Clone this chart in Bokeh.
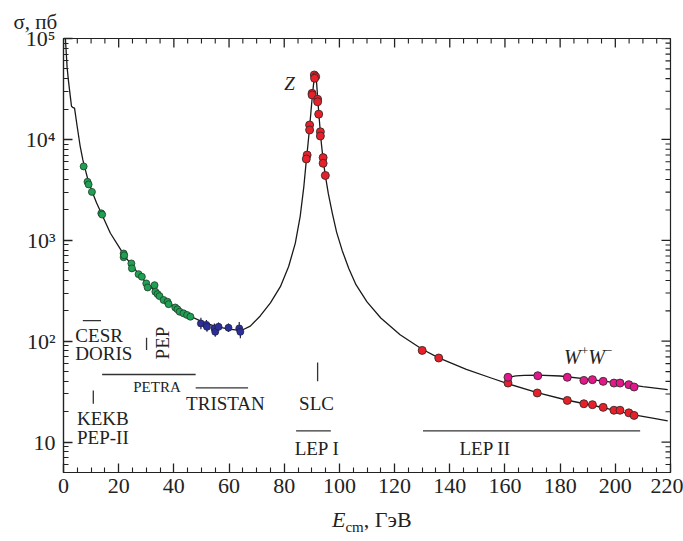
from bokeh.plotting import figure
from bokeh.models import FixedTicker, Div
from bokeh.layouts import column
from bokeh.embed import file_html
from bokeh.resources import INLINE
from bokeh.core.properties import value
import math

SERIF = "Liberation Serif"

# ---------------- data ----------------
# theoretical cross-section curve e+e- -> hadrons
curve_E = [0.7, 1.3, 1.8, 2.5, 2.9, 3.3, 4.0, 5.0, 6.0, 7.0, 7.5, 8.0, 9.0, 10.0, 11.0, 12.0,
           14.0, 17.0, 20.0, 22.0, 25.0, 28.0, 30.0, 33.0, 36.0, 40.0, 45.0, 50.0, 55.0,
           60.0, 63.0, 65.0, 67.7, 71.3, 75.0, 78.6, 81.6, 84.0, 85.8, 87.1, 88.0, 88.6,
           89.2, 89.7, 90.2, 90.6, 91.0, 91.3, 91.6, 92.0, 92.5, 93.0, 93.5, 94.1, 94.9,
           96.0, 97.5, 99.0, 101.0, 103.4, 106.0, 110.0, 115.0, 122.0, 130.0, 136.0,
           146.0, 155.0, 161.0, 171.7, 182.6, 191.7, 199.5, 206.8, 213.0, 219.0]
curve_sig = [99000, 52000, 38000, 26200, 21300, 20800, 20400, 13200, 8700, 6300, 5500,
             4900, 3850, 3240, 2750, 2340, 1780, 1175, 870, 710, 556, 437, 380, 316, 269,
             221, 182, 157, 140, 132, 129, 130, 141, 178, 240, 347, 550, 933, 1740, 3390,
             6170, 8900, 13200, 19000, 27000, 34700, 41200, 43150, 40700, 28800, 18600,
             12600, 8900, 6300, 4370, 2880, 1820, 1200, 794, 525, 363, 245, 170, 116, 83.2,
             68.4, 52.5, 43.2, 38.0, 30.9, 26.0, 23.2, 20.8, 18.6, 17.4, 16.2]

# W+W- production curve
ww_E = [161.0, 162.0, 164.0, 167.0, 172.0, 180.0, 190.0, 200.0, 210.0, 219.0]
ww_sig = [42.5, 44.3, 45.3, 45.9, 46.2, 45.2, 42.2, 38.9, 35.5, 33.1]

# low-energy measurements (PETRA, PEP, CESR, DORIS ...)
green_E = [7.3, 8.7, 9.1, 10.3, 13.7, 14.0, 21.8, 21.8, 22.0, 24.6, 24.8, 27.2, 28.4, 30.0,
           30.5, 33.0, 33.3, 34.1, 34.8, 36.3, 37.7, 38.1, 40.5, 41.3, 42.1, 43.5, 44.8, 46.0]
green_sig = [5400, 3800, 3580, 3020, 1850, 1800, 740, 680, 710, 590, 527, 462, 436, 374,
             341, 359, 309, 293, 280, 256, 246, 233, 216, 207, 196, 189, 182, 175]
green_err = [0.06, 0.05, 0.05, 0.05, 0.05, 0.05, 0.06, 0.06, 0.06, 0.07, 0.07, 0.07, 0.07,
             0.07, 0.08, 0.08, 0.07, 0.07, 0.07, 0.07, 0.07, 0.07, 0.07, 0.07, 0.07, 0.07,
             0.07, 0.07]

# TRISTAN measurements
blue_E = [49.8, 51.8, 52.0, 54.7, 55.0, 56.2, 59.8, 63.7, 64.1]
blue_sig = [150, 145, 139, 134, 124, 139, 136, 134, 124]
blue_err = [0.14, 0.12, 0.12, 0.12, 0.12, 0.10, 0.10, 0.16, 0.16]

# LEP / SLC measurements at the Z and above
red_E = [90.9, 91.4, 91.0, 90.1, 90.1, 92.1, 92.1, 92.5, 89.2, 89.2, 93.1, 93.1, 88.3, 88.0,
         94.1, 94.1, 94.9, 130.0, 136.0, 161.1, 171.7, 182.6, 188.6, 191.7, 195.6, 199.5,
         201.7, 204.9, 206.8]
red_sig = [43500, 41800, 40300, 28600, 27600, 25000, 23600, 17800, 13900, 12400, 11900,
           10800, 7000, 6400, 6600, 5800, 4390, 81.1, 68.2, 38.5, 30.7, 25.9, 24.0, 23.5,
           22.1, 20.7, 20.7, 19.5, 18.4]

# W+W- measurements
mag_E = [161.1, 171.9, 182.6, 188.6, 191.7, 195.6, 199.5, 201.7, 204.9, 206.8]
mag_sig = [43.9, 45.5, 43.9, 40.9, 41.6, 40.0, 38.5, 38.5, 37.1, 35.2]

x_ticks = [0, 20, 40, 60, 80, 100, 120, 140, 160, 180, 200, 220]
y_ticks = [10, 100, 1000, 10000, 100000]
y_tick_labels = ["10", "10\u00b2", "10\u00b3", "10\u2074", "10\u2075"]

# ---------------- figure ----------------
X0, X1, Y0, Y1 = 0, 220, 5, 1e5
p = figure(width=683, height=505, x_range=(X0, X1), y_range=(Y0, Y1), y_axis_type="log",
           output_backend="svg", toolbar_location=None,
           min_border_left=63, min_border_right=13, min_border_top=38, min_border_bottom=33)
p.xgrid.visible = False
p.ygrid.visible = False
p.outline_line_color = "#222222"
p.outline_line_width = 1.2

INK = "#222222"
p.title.text = "\u03c3, \u043f\u0431"
p.title.align = "left"
p.title.offset = -50
p.title.text_font = SERIF
p.title.text_font_size = "21px"
p.title.text_font_style = "normal"
p.title.text_color = INK
p.title.standoff = 10

x_minor = [v for v in range(5, 220, 5) if v % 20 != 0]
y_minor = [5, 6, 7, 8, 9]
for d in [10, 100, 1000, 10000]:
    for k in range(2, 10):
        y_minor.append(k * d)

MAJ, MIN = 9, 5   # tick lengths in px

def base_style(ax):
    ax.axis_line_color = INK
    ax.axis_line_width = 1.2
    ax.major_tick_in = MAJ
    ax.major_tick_out = 0
    ax.minor_tick_in = MIN
    ax.minor_tick_out = 0
    ax.major_tick_line_color = INK
    ax.minor_tick_line_color = INK
    ax.major_tick_line_width = 1.3
    ax.minor_tick_line_width = 1.1
    ax.major_label_text_font = SERIF
    ax.major_label_text_font_size = "22px"
    ax.major_label_text_color = INK

xax = p.xaxis[0]
xax.ticker = FixedTicker(ticks=x_ticks, minor_ticks=x_minor)
base_style(xax)
xax.major_label_standoff = 6

yax = p.yaxis[0]
yax.ticker = FixedTicker(ticks=y_ticks, minor_ticks=y_minor)
yax.major_label_overrides = {t: s for t, s in zip(y_ticks, y_tick_labels)}
base_style(yax)
yax.major_label_standoff = 8

# mirrored inward ticks on the top and right frame edges
frame_w, frame_h = 607.0, 434.0
dx_per_px = (X1 - X0) / frame_w
dlog_per_px = (math.log10(Y1) - math.log10(Y0)) / frame_h
for ticks, length, lw in [(x_ticks, MAJ, 1.3), (x_minor, MIN, 1.1)]:
    f = 10 ** (-length * dlog_per_px)
    p.segment(x0=ticks, x1=ticks, y0=[Y1] * len(ticks), y1=[Y1 * f] * len(ticks),
              line_color=INK, line_width=lw)
for ticks, length, lw in [(y_ticks, MAJ, 1.3), (y_minor, MIN, 1.1)]:
    p.segment(x0=[X1] * len(ticks), x1=[X1 - length * dx_per_px] * len(ticks),
              y0=ticks, y1=ticks, line_color=INK, line_width=lw)

# ---------------- curves ----------------
p.line(curve_E, curve_sig, line_color="#1a1a1a", line_width=1.3)
p.line(ww_E, ww_sig, line_color="#1a1a1a", line_width=1.3)

# ---------------- error bars ----------------
def errbars(E, s, e, color, width):
    p.segment(x0=E, y0=[v / (1 + r) for v, r in zip(s, e)], x1=E,
              y1=[v * (1 + r) for v, r in zip(s, e)], line_color=color, line_width=width)

errbars(green_E, green_sig, green_err, "#1c4a2c", 1.0)
errbars(blue_E, blue_sig, blue_err, "#222244", 1.2)

# ---------------- markers ----------------
p.scatter(green_E, green_sig, marker="circle", size=7, fill_color="#1fa052",
          line_color="#1d3d2a", line_width=0.8)
p.scatter(blue_E, blue_sig, marker="circle", size=7, fill_color="#2b2f9a",
          line_color="#222244", line_width=0.8)
p.scatter(red_E, red_sig, marker="circle", size=8, fill_color="#e8202a",
          line_color="#3a2a2a", line_width=0.9)
p.scatter(mag_E, mag_sig, marker="circle", size=8, fill_color="#e3178c",
          line_color="#3a2a2a", line_width=0.9)

# ---------------- facility annotations ----------------
seg_col = "#333333"
p.segment(x0=[7.0, 14.0, 47.9, 84.3, 130.3], x1=[13.6, 47.9, 66.9, 96.9, 209.0],
          y0=[160, 46.8, 34.5, 12.9, 12.9], y1=[160, 46.8, 34.5, 12.9, 12.9],
          line_color=seg_col, line_width=1.3)
p.segment(x0=[30.1, 10.8, 92.1], x1=[30.1, 10.8, 92.1],
          y0=[82, 24.0, 40.0], y1=[108, 32.5, 61.5], line_color=seg_col, line_width=1.3)

def txt(x, y, s, size="19px", align="left", style="normal", angle=0.0, base="middle"):
    p.text(x=[x], y=[y], text=[s], text_font=value(SERIF), text_font_size=size,
           text_align=align, text_baseline=base, text_font_style=style,
           text_color=INK, angle=angle)

txt(4.3, 114, "CESR")
txt(4.3, 75, "DORIS")
txt(4.9, 17.0, "KEKB")
txt(4.9, 11.2, "PEP-II")
txt(33.9, 35.5, "PETRA", size="15px", align="center")
txt(58.7, 24.0, "TRISTAN", align="center")
txt(35.8, 96, "PEP", align="center", angle=math.pi / 2)
txt(91.7, 24.2, "SLC", align="center")
txt(91.9, 8.65, "LEP I", align="center")
txt(152.8, 8.65, "LEP II", align="center")
txt(81.9, 36000, "Z", align="center", style="italic")
# W+W- label composed of pieces
txt(181.4, 70.0, "W", size="20px", align="left", style="italic", base="alphabetic")
txt(187.6, 80.0, "+", size="13px", align="left", base="alphabetic")
txt(190.2, 70.0, "W", size="20px", align="left", style="italic", base="alphabetic")
txt(196.2, 80.0, "\u2212", size="13px", align="left", base="alphabetic")

# ---------------- x-axis title below the figure ----------------
xtitle = Div(
    text=('<div style="position:relative;width:683px;height:36px;margin:0;padding:0;">'
          '<span style="position:absolute;left:332px;top:4px;white-space:nowrap;'
          "font-family:'Liberation Serif';font-size:22px;line-height:22px;color:#222222;\">"
          '<i>E</i><sub style="font-size:15px;line-height:0;vertical-align:-5px;">cm</sub>'
          ', \u0413\u044d\u0412</span></div>'),
    width=683, height=36, margin=0)

layout = column(p, xtitle, spacing=0)
open("out.html", "w").write(file_html(layout, INLINE))
